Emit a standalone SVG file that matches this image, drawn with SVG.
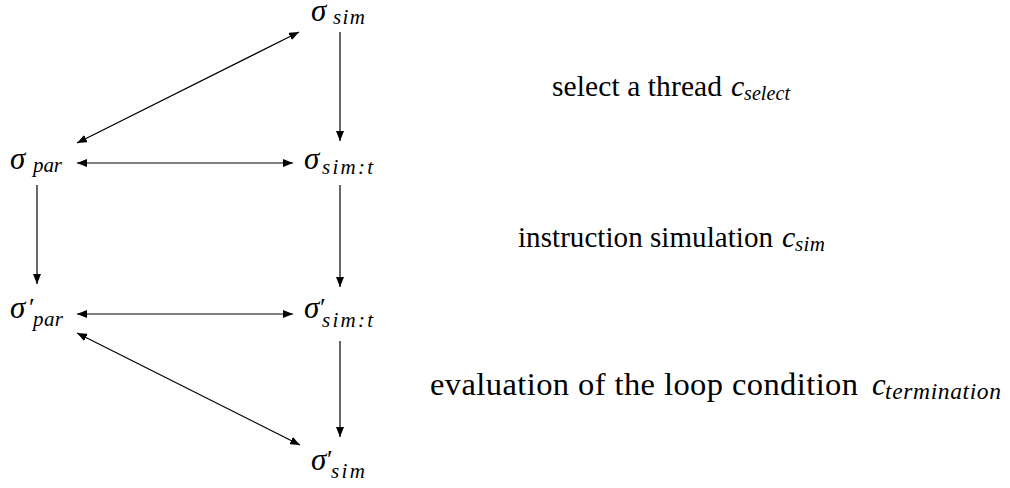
<svg xmlns="http://www.w3.org/2000/svg" width="1010" height="488" viewBox="0 0 1010 488">
<defs>
<marker id="ah" viewBox="0 0 10 8" refX="10" refY="4" markerWidth="10" markerHeight="8" markerUnits="userSpaceOnUse" orient="auto-start-reverse">
<path d="M0,0 L10,4 L0,8 z" fill="#000"/>
</marker>
</defs>
<rect width="1010" height="488" fill="#fff"/>
<g id="connectors" stroke="#000" stroke-width="1.2">
<line x1="340" y1="32" x2="340" y2="141" marker-end="url(#ah)"/>
<line x1="77" y1="143" x2="299" y2="32" marker-start="url(#ah)" marker-end="url(#ah)"/>
<line x1="77" y1="163" x2="293" y2="163" marker-start="url(#ah)" marker-end="url(#ah)"/>
<line x1="37" y1="185" x2="37" y2="284" marker-end="url(#ah)"/>
<line x1="340" y1="185" x2="340" y2="287" marker-end="url(#ah)"/>
<line x1="77" y1="314" x2="293" y2="314" marker-start="url(#ah)" marker-end="url(#ah)"/>
<line x1="340" y1="341" x2="340" y2="437" marker-end="url(#ah)"/>
<line x1="77" y1="333" x2="300" y2="445" marker-start="url(#ah)" marker-end="url(#ah)"/>
</g>
<g fill="#000">
<g id="n-sim" font-style="italic">
<text font-family="Liberation Serif" font-size="31" x="311" y="21">σ</text>
<text font-family="Liberation Serif" font-size="21" x="333" y="24" textLength="32">sim</text>
</g>
<g id="n-par" font-style="italic">
<text font-family="Liberation Serif" font-size="31" x="10" y="169">σ</text>
<text font-family="Liberation Serif" font-size="21" x="33" y="172" textLength="29">par</text>
</g>
<g id="n-simt" font-style="italic">
<text font-family="Liberation Serif" font-size="31" x="304" y="169">σ</text>
<text font-family="Liberation Serif" font-size="21" x="322" y="174" textLength="51">sim:t</text>
</g>
<g id="n-par2" font-style="italic">
<text font-family="Liberation Serif" font-size="31" x="10" y="318">σ</text>
<text font-family="Liberation Serif" font-size="26" font-style="normal" x="29" y="316">′</text>
<text font-family="Liberation Serif" font-size="21" x="33" y="326" textLength="30">par</text>
</g>
<g id="n-simt2" font-style="italic">
<text font-family="Liberation Serif" font-size="31" x="304" y="318">σ</text>
<text font-family="Liberation Serif" font-size="26" font-style="normal" x="320" y="316">′</text>
<text font-family="Liberation Serif" font-size="21" x="322" y="327" textLength="51">sim:t</text>
</g>
<g id="n-sim2" font-style="italic">
<text font-family="Liberation Serif" font-size="31" x="311" y="470">σ</text>
<text font-family="Liberation Serif" font-size="26" font-style="normal" x="327" y="468">′</text>
<text font-family="Liberation Serif" font-size="21" x="331" y="478" textLength="34">sim</text>
</g>
<g id="lbl-select">
<text font-family="Liberation Serif" font-size="29.5" x="552" y="96" textLength="170">select a thread</text>
<text font-family="Liberation Serif" font-size="30" font-style="italic" x="731" y="96">c</text>
<text font-family="Liberation Serif" font-size="20" font-style="italic" x="744" y="100" textLength="46">select</text>
</g>
<g id="lbl-sim">
<text font-family="Liberation Serif" font-size="29" x="518" y="247" textLength="255">instruction simulation</text>
<text font-family="Liberation Serif" font-size="30" font-style="italic" x="782" y="247">c</text>
<text font-family="Liberation Serif" font-size="21" font-style="italic" x="795" y="251" textLength="30">sim</text>
</g>
<g id="lbl-term">
<text font-family="Liberation Serif" font-size="32.5" x="430" y="395" textLength="428">evaluation of the loop condition</text>
<text font-family="Liberation Serif" font-size="31" font-style="italic" x="872" y="395">c</text>
<text font-family="Liberation Serif" font-size="23.5" font-style="italic" x="885" y="399" textLength="116">termination</text>
</g>
</g>
</svg>
